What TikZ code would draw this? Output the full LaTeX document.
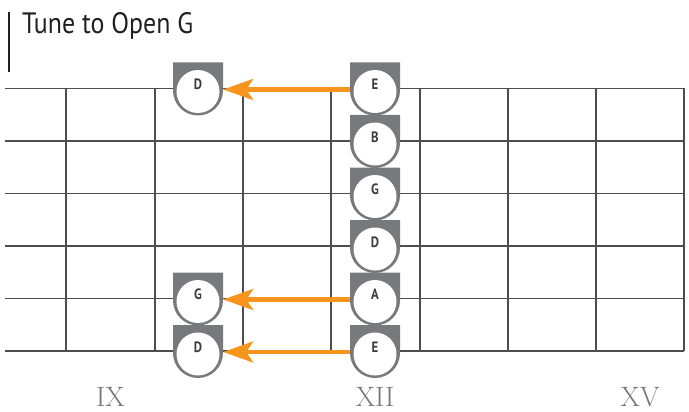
\documentclass[tikz,border=0pt]{standalone}
\usepackage{fontspec}
\usepackage{graphicx}
\setsansfont{PT Sans}
\newfontfamily\titlefont{PT Sans}
\usetikzlibrary{arrows.meta}
\definecolor{markgray}{RGB}{120,121,125}
\definecolor{linegray}{RGB}{77,77,79}
\definecolor{tuneorange}{RGB}{247,148,30}
\definecolor{labelgray}{RGB}{60,60,62}
\definecolor{numgray}{RGB}{118,118,120}
\definecolor{titlecol}{RGB}{35,31,32}
\newcommand\fretmark[4]{%
  \fill[markgray] ({#2-25},{#3-26}) -- ({#2+25},{#3-26}) -- ({#2+25},{#3+2})
     arc[start angle=0,end angle=180,radius=25] -- cycle;
  \fill[white] ({#2},{#3+3}) circle[radius=21.5];
  \node[hit] (#1) at ({#2},{#3+1}) {};
  \node[notelabel] (#1l) at ({#2},{#3-4}) {\scalebox{0.85}[1]{#4}};
}
\begin{document}
\begin{tikzpicture}[x=1pt,y=-1pt,
  fretline/.style={draw=linegray,line width=1.3pt},
  hit/.style={circle,minimum size=50pt,inner sep=0pt},
  notelabel/.style={font=\sffamily\bfseries\fontsize{15}{15}\selectfont,text=labelgray,inner sep=0pt},
  tunearrow/.style={draw=tuneorange,line width=4.5pt,-{Stealth[length=30pt,width=21pt,inset=7pt]}},
  numeral/.style={font=\rmfamily\fontsize{28}{28}\selectfont,text=numgray,anchor=base,inner sep=0pt}]
\useasboundingbox (0,0) rectangle (689,412);
% title
\draw[line width=1.8pt,draw=titlecol] (9,12) -- (9,72);
\node[anchor=base west,inner sep=0pt,text=titlecol] (title) at (22,34) {\resizebox{171pt}{21pt}{\titlefont Tune to Open G}};
% strings
\foreach \s in {88.5,141,193.5,246,298.5,351}
  \draw[fretline] (5,\s) -- (684,\s);
% frets
\foreach \f in {66,155,243,331,420,508,596,684}
  \draw[fretline] (\f,88.5) -- (\f,351);
% markers at XII
\fretmark{xa}{375}{88.5}{E}
\fretmark{xb}{375}{141}{B}
\fretmark{xc}{375}{193.5}{G}
\fretmark{xd}{375}{246}{D}
\fretmark{xe}{375}{298.5}{A}
\fretmark{xf}{375}{351}{E}
% markers at IX
\fretmark{na}{198}{88.5}{D}
\fretmark{ne}{198}{298.5}{G}
\fretmark{nf}{198}{351}{D}
% arrows
\draw[tunearrow] (xa.west) -- (na.east);
\draw[tunearrow] (xe.west) -- (ne.east);
\draw[tunearrow] (xf.west) -- (nf.east);
% numerals
\node[numeral] (nix) at (110.5,406) {IX};
\node[numeral] (nxii) at (375,406) {XII};
\node[numeral] (nxv) at (640,406) {XV};
\end{tikzpicture}
\end{document}
